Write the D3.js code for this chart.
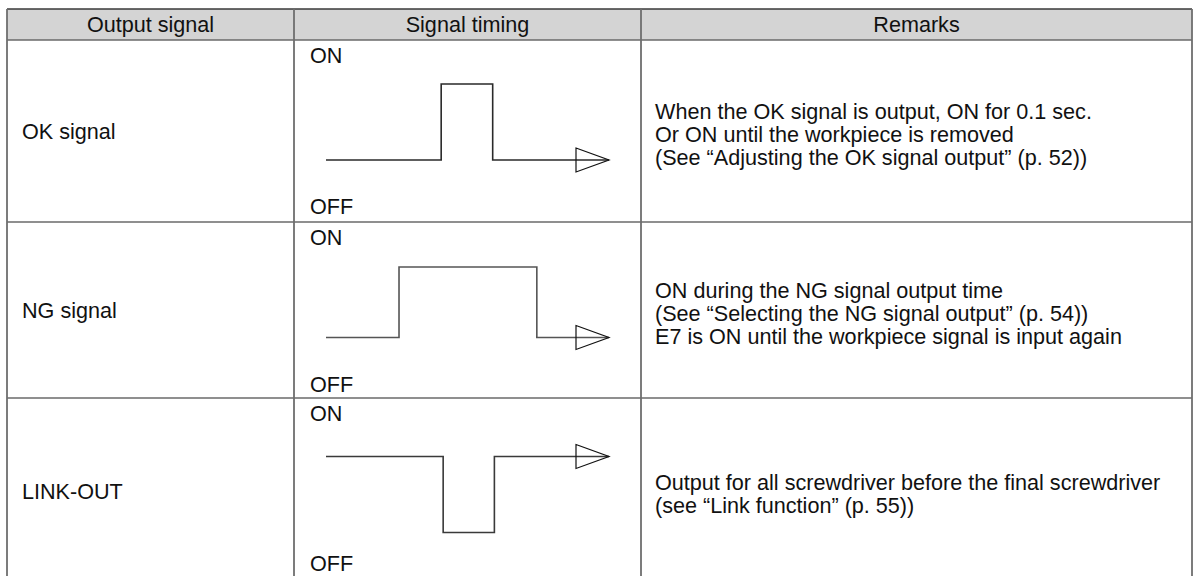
<!DOCTYPE html>
<html>
<head>
<meta charset="utf-8">
<script src="https://cdn.jsdelivr.net/npm/d3@7/dist/d3.min.js"></script>
<style>
  html, body { margin: 0; padding: 0; background: #fff; }
  svg text { font-family: "Liberation Sans", Arial, Helvetica, sans-serif; fill: #111; }
</style>
</head>
<body>
<svg id="chart" width="1194" height="576"></svg>
<script>
// ---------- data ----------
const headers = ["Output signal", "Signal timing", "Remarks"];
const categories = ["OK signal", "NG signal", "LINK-OUT"];
const stateLabels = ["ON", "OFF"];

// waveform: step times (arbitrary time units 0..10) and logic levels (1 = ON, 0 = OFF)
const okTimes = [0, 4.07, 5.89, 10];
const okLevels = [0, 1, 0, 0];
const ngTimes = [0, 2.58, 7.45, 10];
const ngLevels = [0, 1, 0, 0];
const linkTimes = [0, 4.14, 5.95, 10];
const linkLevels = [1, 0, 1, 1];

const okRemarks = [
  "When the OK signal is output, ON for 0.1 sec.",
  "Or ON until the workpiece is removed",
  "(See \u201CAdjusting the OK signal output\u201D (p. 52))"
];
const ngRemarks = [
  "ON during the NG signal output time",
  "(See \u201CSelecting the NG signal output\u201D (p. 54))",
  "E7 is ON until the workpiece signal is input again"
];
const linkRemarks = [
  "Output for all screwdriver before the final screwdriver",
  "(see \u201CLink function\u201D (p. 55))"
];

// ---------- layout ----------
const svg = d3.select("#chart");
const colX = [7, 294, 641, 1192];
const tableTop = 9, headerBottom = 40;
const rowBounds = [[40, 222], [222, 398], [398, 584]];
// per-row waveform vertical ranges [OFF level y, ON level y]
const waveY = [[160, 84], [337.5, 267], [532.5, 456.5]];
const waveStroke = ["#2a2a2a", "#555555", "#3a3a3a"];
const offBaseline = [213.5, 392, 570.5];
const fontSize = 21.6;
const linePitch = 23;

const rows = categories.map((name, i) => ({
  name,
  times: [okTimes, ngTimes, linkTimes][i],
  levels: [okLevels, ngLevels, linkLevels][i],
  remarks: [okRemarks, ngRemarks, linkRemarks][i],
  top: rowBounds[i][0],
  bottom: rowBounds[i][1],
  i
}));

// time scale shared by all waveforms
const x = d3.scaleLinear().domain([0, 10]).range([326, 609]);

// header background
svg.append("rect")
  .attr("x", colX[0]).attr("y", tableTop)
  .attr("width", colX[3] - colX[0]).attr("height", headerBottom - tableTop)
  .attr("fill", "#d4d4d4");

// header text
svg.selectAll("text.header")
  .data(headers)
  .join("text")
  .attr("class", "header")
  .attr("x", (d, i) => (colX[i] + colX[i + 1]) / 2)
  .attr("y", 31.5)
  .attr("text-anchor", "middle")
  .attr("font-size", fontSize)
  .text(d => d);

// rows
const g = svg.selectAll("g.row").data(rows).join("g").attr("class", "row");

// category labels
g.append("text")
  .attr("x", 22)
  .attr("y", d => (d.top + d.bottom) / 2 + 7.5)
  .attr("font-size", fontSize)
  .text(d => d.name);

// ON / OFF labels
g.append("text")
  .attr("x", 310)
  .attr("y", d => d.top + 23)
  .attr("font-size", fontSize)
  .text(stateLabels[0]);
g.append("text")
  .attr("x", 310)
  .attr("y", d => offBaseline[d.i])
  .attr("font-size", fontSize)
  .text(stateLabels[1]);

// remarks
g.each(function(d) {
  const mid = (d.top + d.bottom) / 2;
  const first = mid + 3 - (d.remarks.length - 1) * linePitch / 2 + 7.5;
  d3.select(this).selectAll("text.remark")
    .data(d.remarks)
    .join("text")
    .attr("class", "remark")
    .attr("x", 655)
    .attr("y", (t, j) => first + j * linePitch)
    .attr("font-size", fontSize)
    .text(t => t);
});

// waveforms
g.each(function(d) {
  const y = d3.scaleLinear().domain([0, 1]).range(waveY[d.i]);
  const pts = d.times.map((t, j) => [t, d.levels[j]]);
  const line = d3.line()
    .x(p => x(p[0]))
    .y(p => y(p[1]))
    .curve(d3.curveStepAfter);
  const sel = d3.select(this);
  sel.append("path")
    .attr("d", line(pts))
    .attr("fill", "none")
    .attr("stroke", waveStroke[d.i])
    .attr("stroke-width", 1.6);
  // open arrow head at the end
  const tipX = x(d.times[d.times.length - 1]);
  const tipY = y(d.levels[d.levels.length - 1]);
  const len = 33, half = 12;
  sel.append("path")
    .attr("d", `M${tipX - len},${tipY - half}L${tipX},${tipY}L${tipX - len},${tipY + half}Z`)
    .attr("fill", "none")
    .attr("stroke", "#111")
    .attr("stroke-width", 1.2);
});

// grid lines
const grid = svg.append("g").attr("class", "grid");
// horizontal
grid.append("line")
  .attr("x1", colX[0]).attr("x2", colX[3])
  .attr("y1", tableTop).attr("y2", tableTop)
  .attr("stroke", "#3a3a3a").attr("stroke-width", 1.6);
[headerBottom, ...rowBounds.map(r => r[1])].forEach(yy => {
  grid.append("line")
    .attr("x1", colX[0]).attr("x2", colX[3])
    .attr("y1", yy).attr("y2", yy)
    .attr("stroke", "#6a6a6a").attr("stroke-width", 1.6);
});
// vertical
colX.forEach(xx => {
  grid.append("line")
    .attr("x1", xx).attr("x2", xx)
    .attr("y1", tableTop).attr("y2", 584)
    .attr("stroke", "#6e6e6e").attr("stroke-width", 1.8);
});
</script>
</body>
</html>
